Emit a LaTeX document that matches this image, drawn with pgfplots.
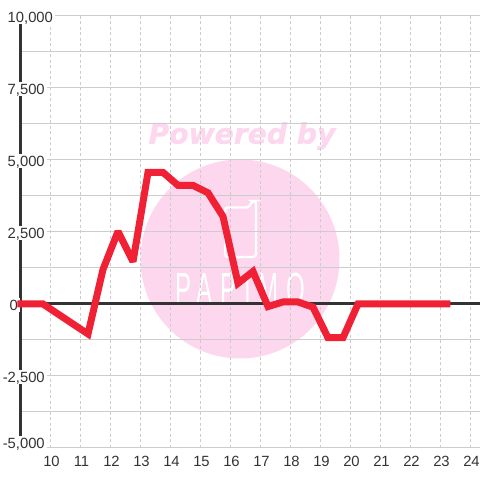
\documentclass[border=0pt]{standalone}
\usepackage{pgfplots}
\pgfplotsset{compat=1.18}
\usepackage{fontspec}
\setmainfont{Liberation Sans}
\newfontfamily\wmfont[FakeBold=1.2]{DejaVu Sans Bold Oblique}
\definecolor{darkline}{HTML}{333333}
\definecolor{gridgrey}{HTML}{CCCCCC}
\definecolor{redline}{HTML}{F02035}
\definecolor{wmpink}{HTML}{FCD7EE}

\begin{document}
\begin{tikzpicture}
  \useasboundingbox (-20.5pt,-32pt) rectangle (459.5pt,448pt);
  % watermark, in pixels of the reference (y downwards)
  \begin{scope}[x=1pt,y=-1pt,shift={(-20.5pt,448pt)}]
    \fill[wmpink] (240,259) circle (99.5);
    \node[text=wmpink,inner sep=0pt,font=\fontsize{28.2}{30}\selectfont\wmfont] at (242,136) {Powered by};
    \draw[white,line width=2.4pt,rounded corners=3pt]
      (240,207.5) -- (249,207.5) -- (252,201) -- (256,201) -- (256,257) -- (225,257) -- (225,207.5) -- cycle;
    \node[text=white,xscale=1.2,yscale=2.25,inner sep=0pt,font=\fontsize{20}{22}\selectfont\addfontfeature{LetterSpace=32}] at (240,289) {PAPIMO};
  \end{scope}
  \begin{axis}[
    scale only axis,
    width=459.5pt,
    height=432pt,
    xmin=9, xmax=24.3167,
    ymin=-5000, ymax=10000,
    axis lines*=left,
    separate axis lines,
    x axis line style={draw=none},
    y axis line style={draw=darkline,line width=3pt},
    xtick={10,...,24},
    xticklabels={10,11,12,13,14,15,16,17,18,19,20,21,22,23,24},
    ytick={-5000,-2500,0,2500,5000,7500,10000},
    yticklabels={{\rlap{\textcolor{white}{\rule[4pt]{38pt}{14pt}}}\raisebox{6pt}{\llap{-}5,000}},{\llap{-}2,500},{\hspace{2pt}0},{2,500},{5,000},{7,500},{10,000}},
    scaled y ticks=false,
    minor ytick={-3750,-1250,1250,3750,6250,8750},
    major tick length=0pt,
    minor tick length=0pt,
    xmajorgrids,
    ymajorgrids,
    yminorgrids,
    x grid style={gridgrey,line width=1pt,dash pattern=on 3pt off 2.5pt},
    y grid style={gridgrey,line width=1pt},
    minor y grid style={gridgrey,line width=1pt},
    tick label style={text=darkline,font=\fontsize{14.8}{16}\selectfont},
    xticklabel style={yshift=-5pt,xshift=1pt},
    yticklabel style={anchor=west,xshift=-15pt,yshift=-0.8pt,fill=white,inner xsep=2pt,inner ysep=1.5pt,text height=10.5pt,text depth=0pt},
    clip=false,
  ]
  \addplot[darkline,line width=3pt] coordinates {(9,0)(24.3167,0)};
  \addplot[redline,line width=7pt,line join=miter,miter limit=2] coordinates {
    (8.9,0)(9.75,0)(11.25,-1040)(11.75,1200)(12.25,2520)(12.75,1470)
    (13.25,4570)(13.75,4570)(14.25,4120)(14.75,4120)(15.25,3860)(15.75,3040)
    (16.25,720)(16.75,1130)(17.25,-90)(17.75,70)(18.25,70)(18.75,-110)
    (19.25,-1170)(19.75,-1170)(20.25,0)(20.75,0)(21.25,0)(21.75,0)(22.25,0)(22.75,0)(23.33,0)
  };
  \end{axis}
\end{tikzpicture}
\end{document}
